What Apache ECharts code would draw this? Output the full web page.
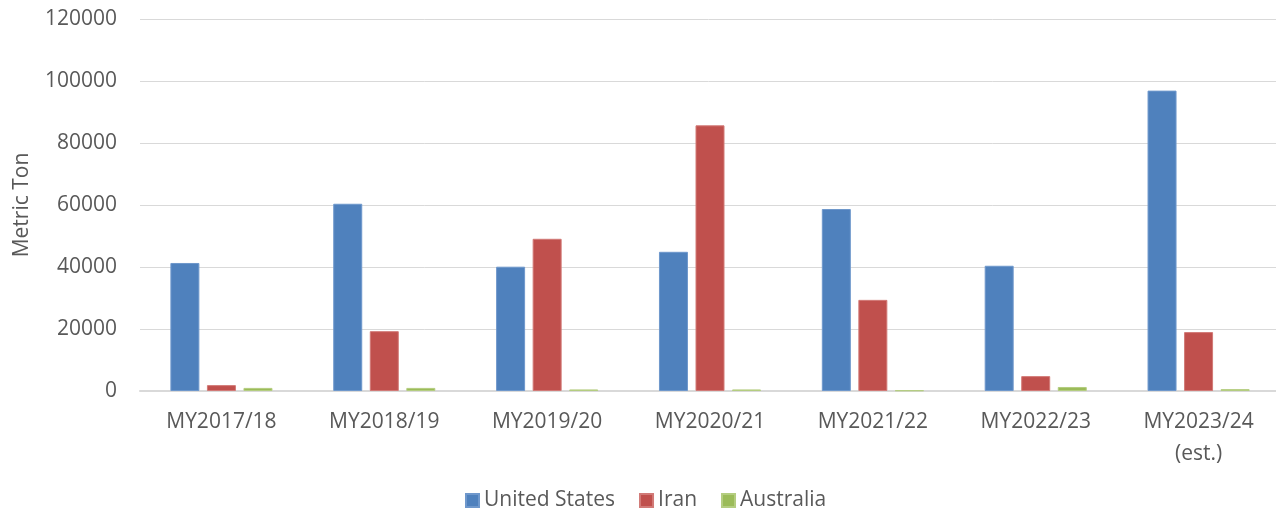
<!DOCTYPE html>
<html><head><meta charset="utf-8">
<script src="https://cdn.jsdelivr.net/npm/echarts@6/dist/echarts.min.js"></script>
<style>html,body{margin:0;padding:0;background:#fff}#c{width:1276px;height:516px}</style>
</head><body><div id="c"></div>
<script>
const categories = ['MY2017/18','MY2018/19','MY2019/20','MY2020/21','MY2021/22','MY2022/23','MY2023/24\n(est.)'];
const unitedStates = [41300, 60400, 40100, 44900, 58700, 40400, 96900];
const iran = [1900, 19300, 49100, 85700, 29400, 4800, 19000];
const australia = [1000, 1000, 500, 500, 200, 1300, 600];
const yTicks = {min: 0, max: 120000, interval: 20000};
const font = '"Open Sans", "Liberation Sans", sans-serif';
const chart = echarts.init(document.getElementById('c'));
chart.setOption({
  animation: false,
  grid: {left: 140, right: -4, top: 19, bottom: 125, containLabel: false, outerBoundsMode: 'none'},
  legend: {bottom: 0, left: 460, itemWidth: 13, itemHeight: 13, itemGap: 24, icon: 'rect',
    textStyle: {fontFamily: font, fontSize: 21, color: '#595959'},
    data: ['United States','Iran','Australia']},
  xAxis: {type: 'category', data: categories,
    axisLine: {lineStyle: {color: '#d9d9d9', width: 2}}, axisTick: {show: false},
    axisLabel: {fontFamily: font, fontSize: 21, color: '#595959', margin: 15, lineHeight: 32}},
  yAxis: {type: 'value', min: yTicks.min, max: yTicks.max, interval: yTicks.interval,
    name: 'Metric Ton', nameLocation: 'middle', nameGap: 107,
    nameTextStyle: {fontFamily: font, fontSize: 21, color: '#595959'},
    axisLabel: {fontFamily: font, fontSize: 21, color: '#595959', margin: 23, formatter: v => String(v)},
    axisLine: {show: false}, axisTick: {show: false},
    splitLine: {lineStyle: {color: '#d9d9d9', width: 1}}},
  series: [
    {name: 'United States', type: 'bar', data: unitedStates, barWidth: 29, barGap: '26%', itemStyle: {color: '#4f81bd', borderColor: '#6f98cc', borderWidth: 1}},
    {name: 'Iran', type: 'bar', data: iran, barWidth: 29, barGap: '26%', itemStyle: {color: '#c0504d', borderColor: '#d27a77', borderWidth: 1}},
    {name: 'Australia', type: 'bar', data: australia, barWidth: 29, barGap: '26%', itemStyle: {color: '#9bbb59', borderColor: '#b4cd80', borderWidth: 1}}
  ]
});
</script></body></html>
